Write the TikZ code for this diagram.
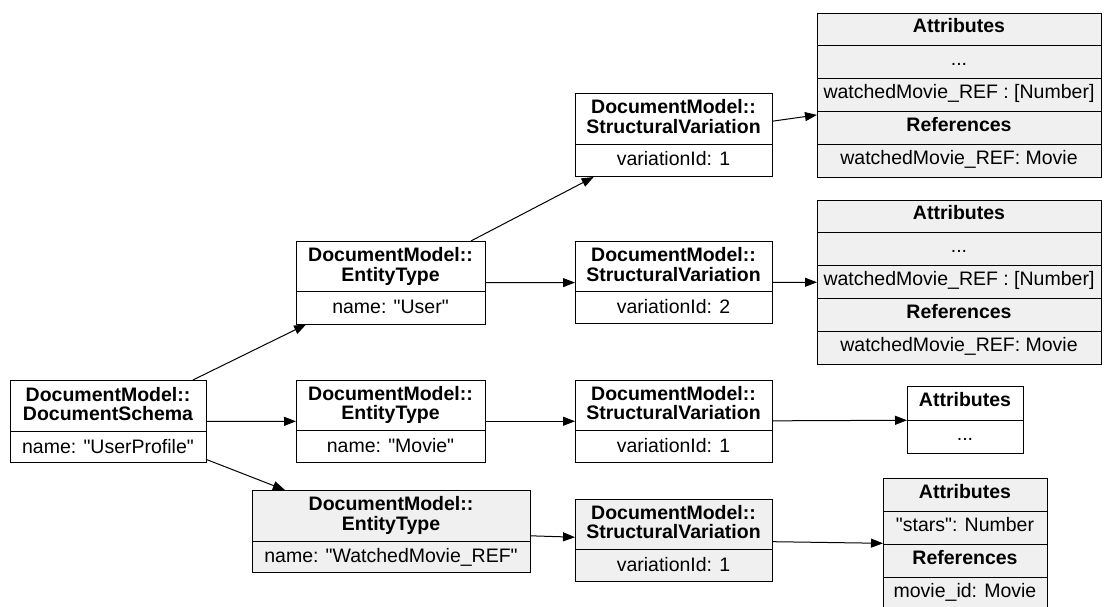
\documentclass[tikz,border=0pt]{standalone}
\usepackage{fontspec}
\setmainfont{Liberation Sans}[Ligatures=TeXOff]
\usetikzlibrary{arrows.meta}
\definecolor{boxgray}{HTML}{F0F0F0}
\tikzset{
  box/.style={draw=black, line width=1pt, inner sep=0pt, anchor=north west},
  gbox/.style={box, fill=boxgray},
  div/.style={draw=black, line width=1pt},
  hd/.style={font=\fontsize{19.5}{23}\selectfont\bfseries, anchor=base, inner sep=0pt},
  tx/.style={font=\fontsize{19.5}{23}\selectfont, anchor=base, inner sep=0pt},
  arr/.style={-{Triangle[length=12pt,width=9pt]}, line width=1pt, draw=black},
}
\begin{document}
\begin{tikzpicture}[x=1pt,y=-1pt]
\useasboundingbox (0,0) rectangle (1104,606);
\clip (0,0) rectangle (1104,606);
\fill[white] (0,0) rectangle (1104,606);

% DocumentSchema
\node[box, minimum width=196pt, minimum height=82pt] (A) at (10,380) {};
\draw[div] (10,431) -- (206,431);
\node[hd] (A1) at (108,401) {DocumentModel::};
\node[hd] (A2) at (108,420) {DocumentSchema};
\node[tx] (A3) at (108,453) {name: "UserProfile"};

% EntityType User
\node[box, minimum width=189pt, minimum height=82.5pt] (B) at (296,241) {};
\draw[div] (296,291.5) -- (485,291.5);
\node[hd] (B1) at (390.5,261.5) {DocumentModel::};
\node[hd] (B2) at (390.5,281) {EntityType};
\node[tx] (B3) at (390.5,313) {name: "User"};

% EntityType Movie
\node[box, minimum width=189pt, minimum height=82.5pt] (C) at (296,379.5) {};
\draw[div] (296,430) -- (485,430);
\node[hd] (C1) at (390.5,400) {DocumentModel::};
\node[hd] (C2) at (390.5,419.5) {EntityType};
\node[tx] (C3) at (390.5,452) {name: "Movie"};

% EntityType WatchedMovie_REF
\node[gbox, minimum width=278pt, minimum height=82pt] (D) at (252,490) {};
\draw[div] (252,541) -- (530,541);
\node[hd] (D1) at (391,510.5) {DocumentModel::};
\node[hd] (D2) at (391,530) {EntityType};
\node[tx] (D3) at (391,562.5) {name: "WatchedMovie\_REF"};

% StructuralVariation 1 (User)
\node[box, minimum width=197pt, minimum height=83pt] (S1) at (575,93) {};
\draw[div] (575,144) -- (772,144);
\node[hd] (S11) at (673.5,113.5) {DocumentModel::};
\node[hd] (S12) at (673.5,133) {StructuralVariation};
\node[tx] (S13) at (673.5,165.5) {variationId: 1};

% StructuralVariation 2 (User)
\node[box, minimum width=197pt, minimum height=82pt] (S2) at (575,241) {};
\draw[div] (575,291.5) -- (772,291.5);
\node[hd] (S21) at (673.5,261.5) {DocumentModel::};
\node[hd] (S22) at (673.5,281) {StructuralVariation};
\node[tx] (S23) at (673.5,313) {variationId: 2};

% StructuralVariation (Movie)
\node[box, minimum width=197pt, minimum height=82.5pt] (S3) at (575,379.5) {};
\draw[div] (575,430) -- (772,430);
\node[hd] (S31) at (673.5,400) {DocumentModel::};
\node[hd] (S32) at (673.5,419.5) {StructuralVariation};
\node[tx] (S33) at (673.5,452) {variationId: 1};

% StructuralVariation (WatchedMovie_REF)
\node[gbox, minimum width=197pt, minimum height=82.5pt] (S4) at (575,498.5) {};
\draw[div] (575,549) -- (772,549);
\node[hd] (S41) at (673.5,519) {DocumentModel::};
\node[hd] (S42) at (673.5,538.5) {StructuralVariation};
\node[tx] (S43) at (673.5,571) {variationId: 1};

% Attributes 1
\node[gbox, minimum width=284pt, minimum height=164pt] (T1) at (817,12.5) {};
\draw[div] (817,45.5) -- (1101,45.5);
\draw[div] (817,78.5) -- (1101,78.5);
\draw[div] (817,111) -- (1101,111);
\draw[div] (817,144) -- (1101,144);
\node[hd] (T11) at (959,32.5) {Attributes};
\node[tx] (T12) at (959,65.5) {...};
\node[tx] (T13) at (959,98.5) {watchedMovie\_REF : [Number]};
\node[hd] (T14) at (959,131) {References};
\node[tx] (T15) at (959,164) {watchedMovie\_REF: Movie};

% Attributes 2
\node[gbox, minimum width=284pt, minimum height=164pt] (T2) at (817,199.5) {};
\draw[div] (817,232.5) -- (1101,232.5);
\draw[div] (817,265.5) -- (1101,265.5);
\draw[div] (817,298) -- (1101,298);
\draw[div] (817,331) -- (1101,331);
\node[hd] (T21) at (959,219.5) {Attributes};
\node[tx] (T22) at (959,252.5) {...};
\node[tx] (T23) at (959,285.5) {watchedMovie\_REF : [Number]};
\node[hd] (T24) at (959,318) {References};
\node[tx] (T25) at (959,351) {watchedMovie\_REF: Movie};

% Attributes 3
\node[box, minimum width=116pt, minimum height=67pt] (T3) at (907,386) {};
\draw[div] (907,420) -- (1023,420);
\node[hd] (T31) at (965,406) {Attributes};
\node[tx] (T32) at (965,440) {...};

% Attributes 4
\node[gbox, minimum width=164pt, minimum height=132pt] (T4) at (883,478) {};
\draw[div] (883,511.5) -- (1047,511.5);
\draw[div] (883,544) -- (1047,544);
\draw[div] (883,577) -- (1047,577);
\node[hd] (T41) at (965,498) {Attributes};
\node[tx] (T42) at (965,531.5) {"stars": Number};
\node[hd] (T43) at (965,564) {References};
\node[tx] (T44) at (965,597) {movie\_id: Movie};

% connectors
\draw[arr] (A) -- (B);
\draw[arr] (A) -- (C);
\draw[arr] (A) -- (D);
\draw[arr] (B) -- (S1);
\draw[arr] (B) -- (S2);
\draw[arr] (C) -- (S3);
\draw[arr] (D) -- (S4);
\draw[arr] (S1) -- (T1);
\draw[arr] (S2) -- (T2);
\draw[arr] (S3) -- (T3);
\draw[arr] (S4) -- (T4);
\end{tikzpicture}
\end{document}
